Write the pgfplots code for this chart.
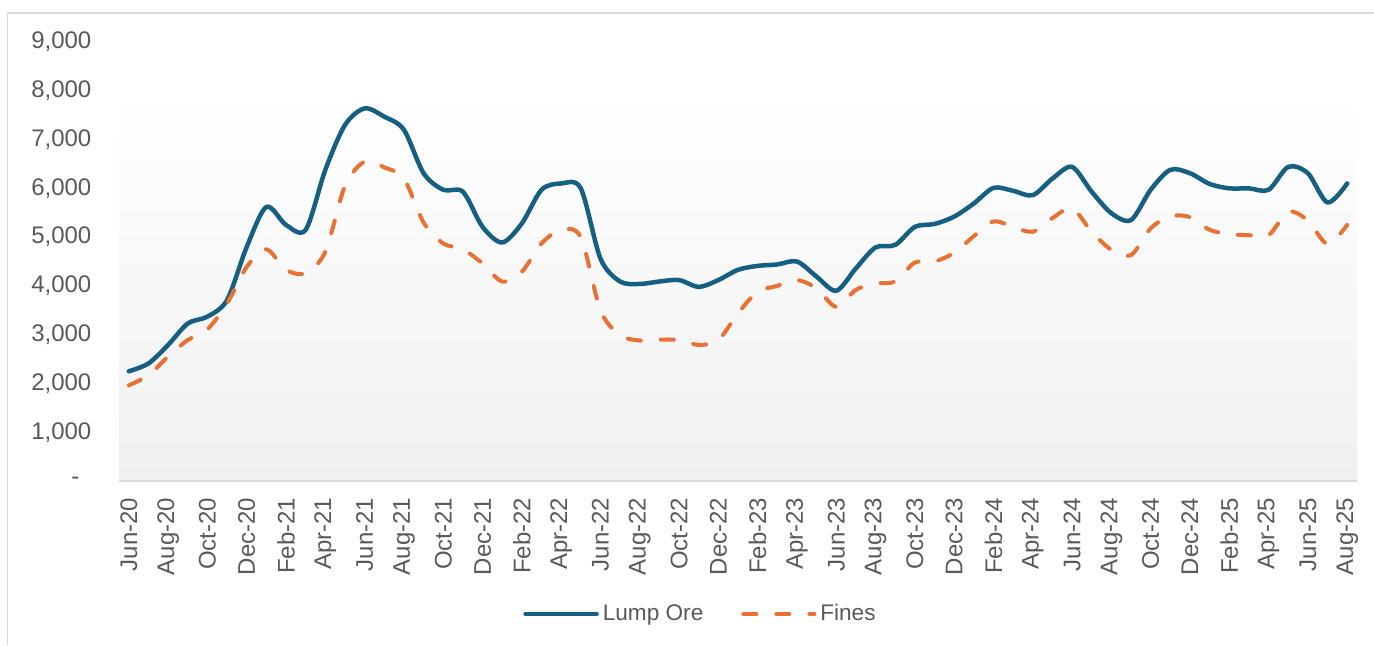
\documentclass[border=0pt]{standalone}
\usepackage{fontspec}
\setmainfont{Liberation Sans}
\usepackage{pgfplots}
\pgfplotsset{compat=1.18}

\definecolor{lump}{HTML}{156082}
\definecolor{fines}{HTML}{E97132}
\definecolor{txt}{HTML}{595959}
\definecolor{linegray}{HTML}{D9D9D9}
\definecolor{bggray}{HTML}{F0F0F0}

% plot area fill: grey at the bottom fading to white near 8,000
\pgfdeclareverticalshading{plotbg}{100bp}{color(0bp)=(bggray); color(25bp)=(bggray); color(69bp)=(white); color(100bp)=(white)}

% monthly prices, Jun-20 (0) to Aug-25 (62)
\pgfplotstableread{
i lump fines
0 2250 1960
1 2410 2170
2 2790 2550
3 3230 2890
4 3370 3110
5 3710 3640
6 4800 4390
7 5620 4750
8 5250 4330
9 5150 4260
10 6380 4700
11 7300 6050
12 7640 6550
13 7470 6430
14 7200 6200
15 6310 5300
16 5970 4870
17 5930 4750
18 5210 4460
19 4890 4090
20 5280 4290
21 5970 4870
22 6100 5150
23 6000 5000
24 4560 3500
25 4090 2990
26 4040 2880
27 4090 2900
28 4120 2890
29 3980 2790
30 4120 2890
31 4330 3440
32 4410 3880
33 4440 4000
34 4500 4120
35 4190 3950
36 3900 3570
37 4360 3920
38 4790 4050
39 4840 4090
40 5210 4480
41 5270 4500
42 5420 4680
43 5690 5020
44 6010 5320
45 5950 5210
46 5860 5110
47 6200 5390
48 6440 5590
49 5930 5110
50 5490 4740
51 5350 4630
52 5970 5180
53 6380 5430
54 6310 5410
55 6090 5150
56 6000 5060
57 6000 5040
58 5970 5040
59 6440 5520
60 6310 5340
61 5710 4860
62 6100 5250
}\prices

\begin{document}
\begin{tikzpicture}
\useasboundingbox (0,0) rectangle (687pt,322.5pt);
\draw[linegray, line width=0.75pt] (3.75pt,0) -- (3.75pt,316pt) -- (687pt,316pt);
\begin{axis}[
    at={(59.5pt,82pt)}, anchor=south west,
    scale only axis,
    width=619pt, height=219.5pt,
    xmin=-0.5, xmax=62.5,
    ymin=0, ymax=9000,
    axis background/.style={shading=plotbg},
    axis x line=bottom, axis y line=left,
    x axis line style={-, draw=linegray, line width=0.75pt},
    y axis line style={draw=none},
    ytick={0,1000,...,9000},
    yticklabels={{-\hspace*{6pt}},{1,000},{2,000},{3,000},{4,000},{5,000},{6,000},{7,000},{8,000},{9,000}},
    ytick style={draw=none},
    yticklabel style={anchor=east, inner sep=0pt, xshift=-11.5pt},
    xtick={0,2,...,62},
    xticklabels={Jun-20,Aug-20,Oct-20,Dec-20,Feb-21,Apr-21,Jun-21,Aug-21,Oct-21,Dec-21,Feb-22,Apr-22,Jun-22,Aug-22,Oct-22,Dec-22,Feb-23,Apr-23,Jun-23,Aug-23,Oct-23,Dec-23,Feb-24,Apr-24,Jun-24,Aug-24,Oct-24,Dec-24,Feb-25,Apr-25,Jun-25,Aug-25},
    xtick style={draw=none},
    xticklabel style={yshift=-6pt, rotate=90, anchor=east, inner sep=0pt},
    extra x ticks={-0.5,1.5,...,61.5},
    extra x tick labels={},
    extra x tick style={tick align=outside, major tick length=3pt,
        tick style={draw=linegray, line width=0.75pt}},
    tick label style={font=\fontsize{12}{14}\selectfont, text=txt},
    legend style={at={(0.4705,-0.303)}, anchor=center, draw=none, fill=none,
        font=\fontsize{11.3}{13}\selectfont, text=txt,
        legend columns=2, /tikz/every even column/.append style={column sep=17pt}},
    legend image code/.code={\draw[#1] (0pt,0pt) -- (35.5pt,0pt);},
    clip=false,
]
\addplot[lump, line width=2.25pt, smooth, line cap=round, line join=round] table[x=i, y=lump] {\prices};
\addlegendentry{Lump Ore}
\addplot[fines, line width=2pt, smooth, line cap=round, dash pattern=on 6.5pt off 10pt] table[x=i, y=fines] {\prices};
\addlegendentry{Fines}
\end{axis}
\end{tikzpicture}
\end{document}
